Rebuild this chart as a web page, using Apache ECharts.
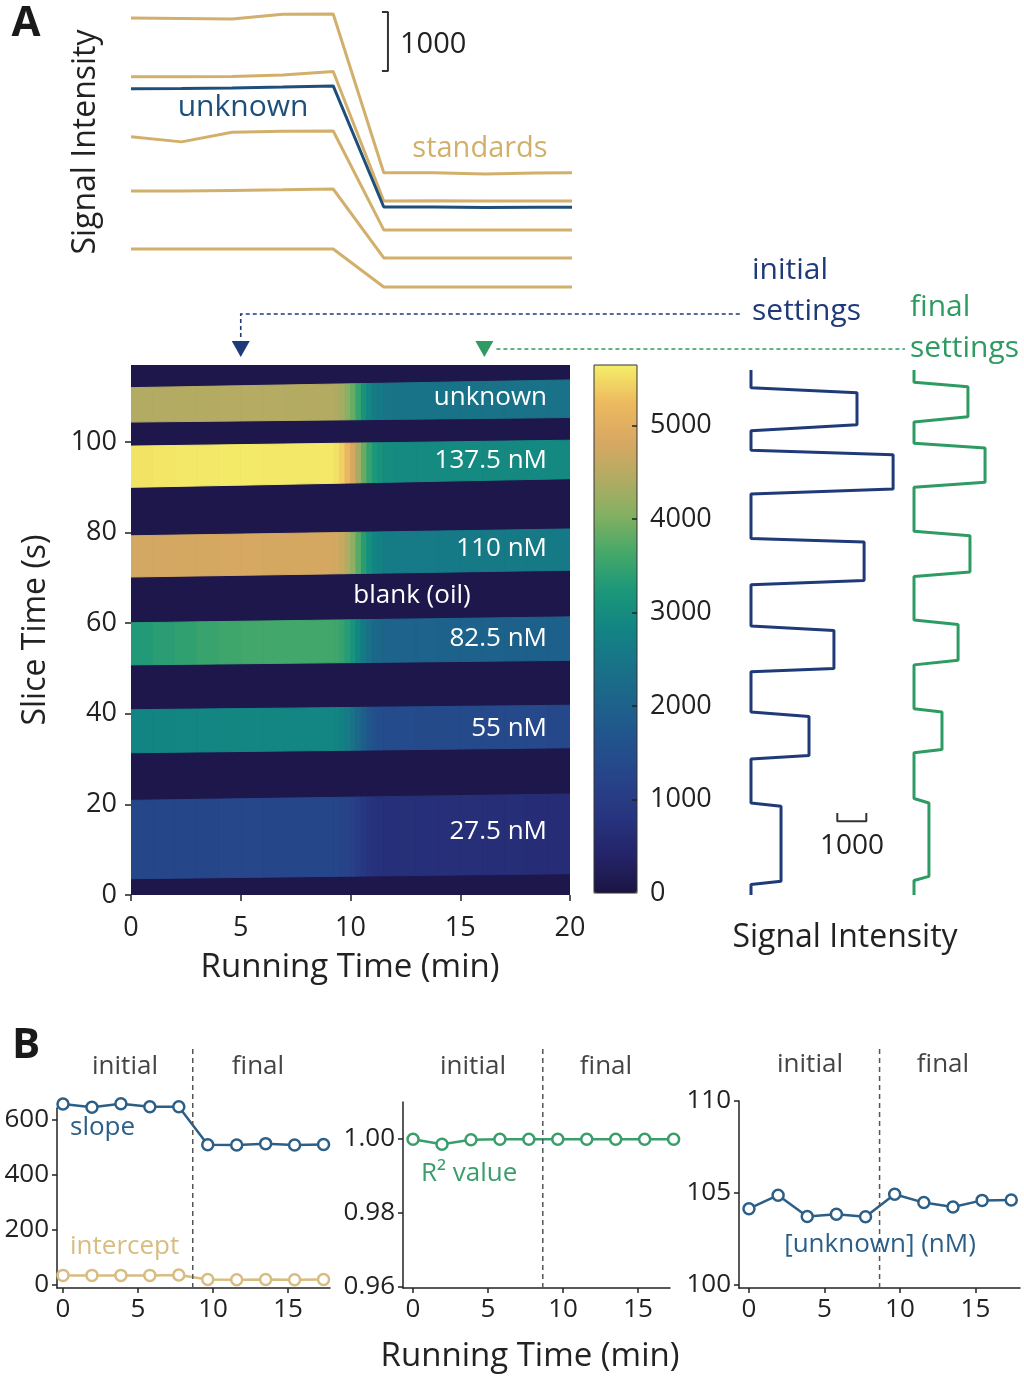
<!DOCTYPE html>
<html><head><meta charset="utf-8">
<script src="https://cdn.jsdelivr.net/npm/echarts@6/dist/echarts.min.js"></script>
<style>html,body{margin:0;padding:0;background:#fff}#c{width:1024px;height:1377px}</style>
</head><body><div id="c"></div>
<script>
// ================= DATA =================
// running times of the calibration points (min)
const runTimes = [0, 1.93, 3.86, 5.79, 7.72, 9.65, 11.58, 13.51, 15.44, 17.37];
// top panel: signal intensity of standards and unknown over running time
const top1375 = [5100, 5090, 5080, 5160, 5165, 2470, 2470, 2450, 2465, 2470];
const top110 = [4100, 4100, 4105, 4130, 4190, 1990, 1995, 1990, 1990, 1990];
const top825 = [3080, 2995, 3160, 3175, 3180, 1500, 1500, 1500, 1500, 1500];
const top55 = [2160, 2160, 2170, 2180, 2195, 1025, 1025, 1025, 1025, 1025];
const top275 = [1175, 1175, 1175, 1175, 1175, 530, 530, 530, 530, 530];
const topUnknown = [3895, 3900, 3910, 3925, 3945, 1890, 1890, 1880, 1885, 1885];

// heatmap: running-time segment edges (min)
const heatEdges = [0, 1, 2, 3, 4, 5, 6, 7, 8, 9, 9.25, 9.5, 9.75, 10, 10.25, 10.5, 10.75, 11, 11.25, 11.5, 12, 13, 14, 15, 16, 17, 18, 19, 20];
const bandNames = ['unknown', '137.5 nM', '110 nM', '82.5 nM', '55 nM', '27.5 nM'];
// droplet band slice-time edges [low, high] (s) at 0 min and at 20 min
const bandEdgesStart = [[104.4, 112.0], [90.0, 99.1], [70.2, 79.3], [50.8, 60.1], [31.4, 40.9], [3.6, 20.9]];
const bandEdgesEnd = [[105.4, 113.7], [91.9, 100.4], [71.7, 80.8], [51.8, 61.4], [32.5, 41.9], [4.7, 22.3]];
// intensity of each band in each running-time segment
const heatUnknown = [4420, 4440, 4450, 4450, 4460, 4460, 4460, 4450, 4450, 4450, 4410, 4310, 4130, 3850, 3490, 3130, 2850, 2650, 2550, 2480, 2450, 2450, 2440, 2440, 2430, 2430, 2420, 2420];
const heat1375 = [5560, 5580, 5600, 5600, 5610, 5610, 5600, 5600, 5600, 5600, 5547, 5415, 5178, 4808, 4333, 3858, 3488, 3224, 3092, 3000, 2960, 2960, 2950, 2950, 2940, 2940, 2930, 2930];
const heat110 = [4780, 4790, 4800, 4800, 4810, 4810, 4800, 4800, 4800, 4800, 4756, 4647, 4451, 4146, 3754, 3361, 3056, 2838, 2729, 2653, 2620, 2620, 2610, 2610, 2600, 2600, 2590, 2590];
const heat825 = [3300, 3380, 3450, 3520, 3580, 3600, 3610, 3610, 3600, 3600, 3569, 3492, 3352, 3135, 2856, 2577, 2360, 2205, 2128, 2073, 2050, 2040, 2030, 2020, 2010, 2000, 1990, 1980];
const heat55 = [2830, 2840, 2850, 2850, 2860, 2860, 2860, 2850, 2850, 2850, 2821, 2750, 2621, 2421, 2164, 1906, 1706, 1563, 1492, 1441, 1420, 1410, 1400, 1390, 1380, 1370, 1360, 1350];
const heat275 = [1280, 1290, 1300, 1300, 1310, 1310, 1300, 1300, 1300, 1300, 1288, 1258, 1204, 1120, 1012, 904, 820, 760, 730, 709, 700, 690, 680, 670, 660, 650, 640, 630];
const oilLevel = 80;
const sliceMax = 117;
const colorMax = 5650;

// vertical traces (signal vs slice time) at initial and final settings
const initialTime = 5, finalTime = 16.1;
const traceInitSlice = [115.9, 112.0, 110.9, 103.8, 102.5, 98.2, 97.2, 89.6, 88.5, 78.7, 77.9, 69.4, 68.5, 59.4, 58.4, 50.0, 49.3, 40.4, 39.4, 30.8, 30.0, 20.3, 19.6, 3.05, 2.3, 0];
const traceInitSignal = [200, 200, 3855, 3855, 200, 200, 5100, 5100, 200, 200, 4100, 4100, 200, 200, 3060, 3060, 200, 200, 2200, 2200, 200, 200, 1235, 1235, 200, 200];
const traceFinalSlice = [115.9, 113.2, 112.2, 105.6, 104.4, 99.7, 98.7, 91.1, 90.0, 80.3, 79.3, 71.3, 70.3, 60.7, 59.7, 51.8, 50.8, 41.1, 40.4, 32.1, 31.4, 21.3, 20.3, 4.1, 3.2, 0];
const traceFinalSignal = [200, 200, 2060, 2060, 200, 200, 2650, 2650, 200, 200, 2130, 2130, 200, 200, 1720, 1720, 200, 200, 1165, 1165, 200, 200, 715, 715, 200, 200];

// panel B
const slope = [658, 646, 659, 648, 648, 510, 509, 514, 509, 511];
const intercept = [35, 35, 35, 35, 36, 20, 19, 20, 19, 20];
const rSquared = [0.9999, 0.9986, 0.9998, 0.9999, 0.9999, 0.9999, 0.9999, 0.9999, 0.9999, 0.9999];
const unknownConc = [104.15, 104.88, 103.73, 103.85, 103.71, 104.93, 104.48, 104.24, 104.6, 104.62];
const switchTime = 8.65;

// tick labels
const heatXTicks = [0, 5, 10, 15, 20];
const heatYTicks = [0, 20, 40, 60, 80, 100];
const cbarTicks = [0, 1000, 2000, 3000, 4000, 5000];
const bXTicks = [0, 5, 10, 15];
const slopeTicks = [0, 200, 400, 600];
const r2Ticks = [0.96, 0.98, 1.00];
const concTicks = [100, 105, 110];

// ================= STYLE =================
const FONT = '"Open Sans", "Noto Sans", sans-serif';
const INK = '#222';
const GOLD = '#d2b06c';
const UNK = '#1e4f7b';
const NAVY = '#1f3a78';
const GREEN = '#2e9b63';
const SLOPE = '#2b5f88';
const TAN = '#d8bc80';
const R2G = '#3a9e6b';
const cmap = ['#1c1443', '#24246a', '#27347f', '#274389', '#22528c', '#1d628b', '#197288', '#128483', '#1b977a', '#44a869', '#82b062', '#b3ab63', '#d9a862', '#edb95f', '#f4ef68'];

const chart = echarts.init(document.getElementById('c'), null, {renderer: 'canvas', width: 1024, height: 1377});

const pairs = (xs, ys) => xs.map((x, i) => [x, ys[i]]);
const heatRows = [heatUnknown, heat1375, heat110, heat825, heat55, heat275];
const heatData = [[0, 20, oilLevel, -1]];
heatRows.forEach((row, b) => row.forEach((v, i) => heatData.push([heatEdges[i], heatEdges[i + 1], v, b])));

function renderHeat(params, api) {
  const t0 = api.value(0), t1 = api.value(1), b = api.value(3);
  let pts;
  if (b < 0) {
    pts = [api.coord([t0, 0]), api.coord([t1, 0]), api.coord([t1, sliceMax]), api.coord([t0, sliceMax])];
  } else {
    const s = bandEdgesStart[b], e = bandEdgesEnd[b];
    const edge = (k, t) => s[k] + (e[k] - s[k]) * t / 20;
    pts = [api.coord([t0, edge(0, t0)]), api.coord([t1, edge(0, t1)]), api.coord([t1, edge(1, t1)]), api.coord([t0, edge(1, t0)])];
  }
  const c = api.visual('color');
  return {type: 'polygon', shape: {points: pts}, style: {fill: c, stroke: c, lineWidth: 1}};
}

const gridBase = {containLabel: false, outerBoundsMode: 'none'};
const hiddenAxis = (gi, min, max) => ({type: 'value', gridIndex: gi, show: false, min: min, max: max, splitLine: {show: false}});
function shownAxis(gi, min, max, ticks, opts) {
  opts = opts || {};
  return {
    type: 'value', gridIndex: gi, min: min, max: max, position: opts.position,
    axisLine: {show: opts.line !== false, onZero: false, lineStyle: {color: INK, width: 1.5}},
    axisTick: {show: true, inside: !!opts.inside, length: opts.tickLen || 5, customValues: opts.tickValues || ticks, lineStyle: {color: INK, width: 1.5}},
    axisLabel: {show: true, customValues: ticks, margin: opts.margin || 8, color: INK, fontFamily: FONT, fontSize: opts.fontSize || 25, formatter: opts.formatter || (v => String(v))},
    splitLine: {show: false}, z: opts.z || 0
  };
}

const lineSeries = (xi, data, color, width, extra) => Object.assign({
  type: 'line', xAxisIndex: xi, yAxisIndex: xi, data: data, symbol: 'none',
  lineStyle: {color: color, width: width}, itemStyle: {color: color}, animation: false, silent: true
}, extra || {});
const markerSeries = (xi, ys, color) => lineSeries(xi, pairs(runTimes, ys), color, 2.5, {
  symbol: 'circle', symbolSize: 11, showSymbol: true, clip: false,
  itemStyle: {color: '#fff', borderColor: color, borderWidth: 2.5}
});
const divider = (xi, y0, y1) => lineSeries(xi, [[switchTime, y0], [switchTime, y1]], '#555', 1.5, {clip: false, lineStyle: {color: '#555', width: 1.5, type: [5, 4]}});

const option = {
  animation: false,
  backgroundColor: '#fff',
  textStyle: {fontFamily: FONT},
  grid: [
    Object.assign({left: 131, top: 12, width: 439, height: 278}, gridBase),   // 0 top lines
    Object.assign({left: 131, top: 365, width: 439, height: 530}, gridBase),  // 1 heatmap
    Object.assign({left: 594, top: 365, width: 43, height: 528, show: true, borderColor: '#333', borderWidth: 1, backgroundColor: 'transparent', z: 6}, gridBase), // 2 colorbar
    Object.assign({left: 751, top: 365, width: 145, height: 530}, gridBase),  // 3 initial trace
    Object.assign({left: 914, top: 365, width: 87, height: 530}, gridBase),   // 4 final trace
    Object.assign({left: 57, top: 1108, width: 273, height: 180}, gridBase),  // 5 slope
    Object.assign({left: 403, top: 1102, width: 267, height: 186}, gridBase), // 6 R2
    Object.assign({left: 739, top: 1101, width: 281, height: 187}, gridBase)  // 7 unknown conc
  ],
  xAxis: [
    hiddenAxis(0, 0, 16.76),
    shownAxis(1, 0, 20, heatXTicks, {line: false, tickLen: 6, margin: 20, fontSize: 27}),
    hiddenAxis(2, 0, 1),
    hiddenAxis(3, 200, 5200),
    hiddenAxis(4, 200, 3200),
    shownAxis(5, -0.4, 17.8, bXTicks, {margin: 9, fontSize: 26}),
    shownAxis(6, -0.67, 17.13, bXTicks, {margin: 9, fontSize: 26}),
    shownAxis(7, -0.66, 17.95, bXTicks, {margin: 9, fontSize: 26})
  ],
  yAxis: [
    hiddenAxis(0, 480, 5200),
    shownAxis(1, 0, sliceMax, heatYTicks, {line: false, tickLen: 6, margin: 14, fontSize: 27}),
    shownAxis(2, 0, colorMax, cbarTicks, {position: 'right', line: false, inside: true, tickLen: 5, margin: 13, fontSize: 27, tickValues: [1000, 2000, 3000, 4000, 5000], z: 7}),
    hiddenAxis(3, 0, sliceMax),
    hiddenAxis(4, 0, sliceMax),
    shownAxis(5, -10.9, 643.6, slopeTicks, {margin: 8, fontSize: 26}),
    shownAxis(6, 0.9597, 1.0100, r2Ticks, {margin: 8, fontSize: 26, formatter: v => v.toFixed(2)}),
    shownAxis(7, 99.84, 110, concTicks, {margin: 8, fontSize: 26})
  ],
  visualMap: [{
    type: 'continuous', min: 0, max: colorMax, dimension: 2, seriesIndex: 7,
    inRange: {color: cmap}, calculable: false, hoverLink: false, realtime: false,
    orient: 'vertical', left: 594, top: 365, itemWidth: 43, itemHeight: 528, padding: 0,
    text: null, showLabel: false
  }],
  series: [
    lineSeries(0, pairs(runTimes, top1375), GOLD, 3),
    lineSeries(0, pairs(runTimes, top110), GOLD, 3),
    lineSeries(0, pairs(runTimes, top825), GOLD, 3),
    lineSeries(0, pairs(runTimes, top55), GOLD, 3),
    lineSeries(0, pairs(runTimes, top275), GOLD, 3),
    lineSeries(0, pairs(runTimes, topUnknown), UNK, 3),
    lineSeries(0, [[9.58, 5200], [9.81, 5200], [9.81, 4200], [9.58, 4200]], '#333', 2, {clip: false}),
    {type: 'custom', xAxisIndex: 1, yAxisIndex: 1, data: heatData, renderItem: renderHeat, encode: {x: [0, 1]}, clip: true, silent: true, animation: false},
    lineSeries(3, pairs(traceInitSignal, traceInitSlice), NAVY, 3),
    lineSeries(4, pairs(traceFinalSignal, traceFinalSlice), GREEN, 3),
    lineSeries(3, [[3176, 18.1], [3176, 16.3], [4176, 16.3], [4176, 18.1]], '#333', 2, {clip: false}),
    markerSeries(5, slope, SLOPE),
    markerSeries(5, intercept, TAN),
    divider(5, -10.9, 873),
    markerSeries(6, rSquared, R2G),
    divider(6, 0.9597, 1.0254),
    markerSeries(7, unknownConc, SLOPE),
    divider(7, 99.84, 113.04)
  ]
};
chart.setOption(option);

// ---------- annotations ----------
const T = (text, x, y, size, color, extra) => Object.assign({
  type: 'text', x: x, y: y, silent: true, z: 20,
  style: Object.assign({text: text, fill: color || INK, fontFamily: FONT, fontSize: size, align: 'center', verticalAlign: 'middle'}, (extra && extra.style) || {})
}, extra && extra.rotation !== undefined ? {rotation: extra.rotation} : {});

const pI = chart.convertToPixel({gridIndex: 1}, [initialTime, sliceMax]);
const pF = chart.convertToPixel({gridIndex: 1}, [finalTime, sliceMax]);
const tri = (p, color) => ({type: 'polygon', silent: true, z: 20, shape: {points: [[p[0] - 9, p[1] - 24], [p[0] + 9, p[1] - 24], [p[0], p[1] - 8]]}, style: {fill: color}});
const dash = (pts, color) => ({type: 'polyline', silent: true, z: 20, shape: {points: pts}, style: {stroke: color, lineWidth: 1.6, lineDash: [4, 3], fill: null}});

const elements = [
  T('A', 26, 24, 42, '#1a1a1a', {style: {fontWeight: 'bold'}}),
  T('B', 26, 1046, 42, '#1a1a1a', {style: {fontWeight: 'bold'}}),
  T('Signal Intensity', 86, 142, 32, INK, {rotation: Math.PI / 2}),
  T('unknown', 243, 107, 30, UNK),
  T('standards', 480, 149, 29, GOLD),
  T('1000', 400, 45, 29, INK, {style: {align: 'left'}}),
  // heatmap labels
  T('unknown', 547, 398, 26, '#fff', {style: {align: 'right'}}),
  T('137.5 nM', 547, 461, 26, '#fff', {style: {align: 'right'}}),
  T('110 nM', 547, 549, 26, '#fff', {style: {align: 'right'}}),
  T('blank (oil)', 412, 596, 26, '#fff'),
  T('82.5 nM', 547, 639, 26, '#fff', {style: {align: 'right'}}),
  T('55 nM', 547, 729, 26, '#fff', {style: {align: 'right'}}),
  T('27.5 nM', 547, 832, 26, '#fff', {style: {align: 'right'}}),
  T('Running Time (min)', 350, 968, 33),
  T('Slice Time (s)', 36, 630, 32, INK, {rotation: Math.PI / 2}),
  // settings
  T('initial', 752, 270, 30, NAVY, {style: {align: 'left'}}),
  T('settings', 752, 311, 30, NAVY, {style: {align: 'left'}}),
  T('final', 910, 307, 30, GREEN, {style: {align: 'left'}}),
  T('settings', 910, 348, 30, GREEN, {style: {align: 'left'}}),
  tri(pI, NAVY), tri(pF, GREEN),
  dash([[pI[0], pI[1] - 28], [pI[0], 314], [740, 314]], NAVY),
  dash([[pF[0] + 12, pF[1] - 16], [905, pF[1] - 16]], GREEN),
  T('1000', 852, 846, 28),
  T('Signal Intensity', 845, 938, 32),
  // panel B
  T('initial', 125, 1067, 26, '#444'), T('final', 258, 1067, 26, '#444'),
  T('initial', 473, 1067, 26, '#444'), T('final', 606, 1067, 26, '#444'),
  T('initial', 810, 1065, 26, '#444'), T('final', 943, 1065, 26, '#444'),
  T('slope', 70, 1128, 26, SLOPE, {style: {align: 'left'}}),
  T('intercept', 70, 1247, 26, TAN, {style: {align: 'left'}}),
  T('R² value', 421, 1174, 26, R2G, {style: {align: 'left'}}),
  T('[unknown] (nM)', 880, 1245, 26, SLOPE),
  T('Running Time (min)', 530, 1357, 33)
];
chart.setOption({graphic: {elements: elements}});
</script>
</body></html>
